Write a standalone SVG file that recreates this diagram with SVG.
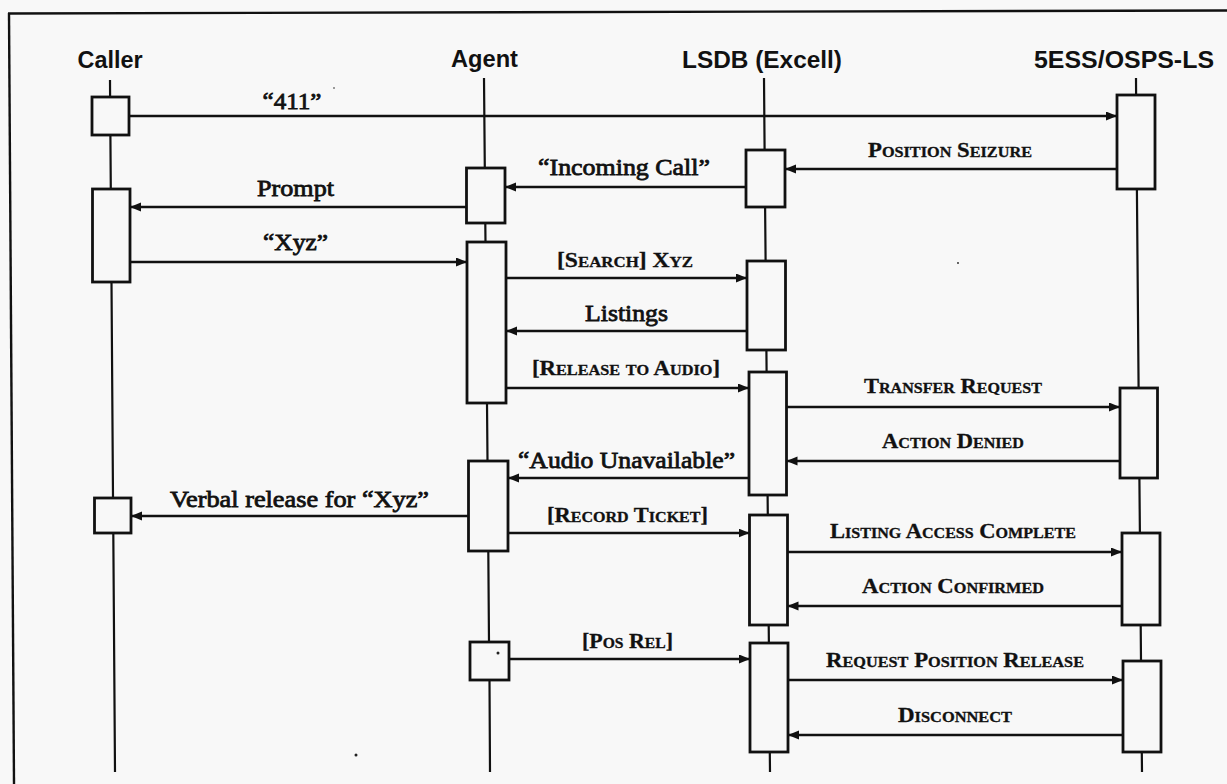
<svg xmlns="http://www.w3.org/2000/svg" width="1227" height="784" viewBox="0 0 1227 784">
<style>
.bg{fill:#f8f8f8}
.frame{stroke:#111;stroke-width:2.4;fill:none}
.ll{stroke:#111;stroke-width:2.2;fill:none}
.box{fill:#f8f8f8;stroke:#111;stroke-width:2.8}
.msg{stroke:#111;stroke-width:2.6;fill:none;marker-end:url(#ah)}
.hdr{font-family:"Liberation Sans",Arial,sans-serif;font-weight:bold;font-size:23px;fill:#111;text-anchor:middle}
.lbl{font-family:"Liberation Serif","Times New Roman",serif;font-size:24px;fill:#111;stroke:#111;stroke-width:0.8;text-anchor:middle}
.sc{font-family:"Liberation Serif","Times New Roman",serif;font-size:21px;font-variant:small-caps;font-weight:bold;fill:#111;stroke:#111;stroke-width:0.3;text-anchor:middle}
.speck{fill:#222}
</style>
<defs>
<marker id="ah" markerUnits="userSpaceOnUse" markerWidth="12" markerHeight="10" refX="11" refY="4.5" orient="auto">
<path d="M0,0 L11,4.5 L0,9 z" fill="#111"/>
</marker>
</defs>
<rect class="bg" x="0" y="0" width="1227" height="784"/>
<g id="frame">
<line class="frame" x1="8" y1="13.5" x2="1227" y2="10.5"/>
<line class="frame" x1="9" y1="13" x2="14" y2="784"/>
</g>
<g id="caller">
<text class="hdr" x="110" y="68" textLength="65" lengthAdjust="spacingAndGlyphs">Caller</text>
<path class="ll" d="M110 80 L110.1 97 M110.4 135 L110.8 189 M111.5 282 L113 498 M113.3 533 L115 772"/>
<rect class="box" x="92" y="97" width="37" height="38"/>
<rect class="box" x="92.5" y="189" width="37.5" height="93"/>
<rect class="box" x="94.5" y="498" width="36.5" height="35"/>
</g>
<g id="agent">
<text class="hdr" x="484.5" y="67" textLength="67" lengthAdjust="spacingAndGlyphs">Agent</text>
<path class="ll" d="M484 78 L484.8 168 M485.3 223 L485.5 242 M487 403 L487.5 461 M488.3 551 L489 642 M489.5 680 L490 772"/>
<rect class="box" x="466.5" y="168" width="38.5" height="55"/>
<rect class="box" x="467" y="242" width="39" height="161"/>
<rect class="box" x="468.5" y="461" width="39.5" height="90"/>
<rect class="box" x="470" y="642" width="39" height="38"/>
</g>
<g id="lsdb">
<text class="hdr" x="762" y="68" textLength="160" lengthAdjust="spacingAndGlyphs">LSDB (Excell)</text>
<path class="ll" d="M764 78 L764.6 150 M765.1 207 L765.6 261 M766.4 350 L766.6 372 M767.6 495 L767.8 515 M768.7 625 L768.9 643 M769.8 752 L770 772"/>
<rect class="box" x="746" y="150" width="39" height="57"/>
<rect class="box" x="747" y="261" width="38.5" height="89"/>
<rect class="box" x="749" y="372" width="37.5" height="123"/>
<rect class="box" x="749.5" y="515" width="38" height="110"/>
<rect class="box" x="750" y="643" width="38" height="109"/>
</g>
<g id="ess">
<text class="hdr" x="1124" y="68" textLength="180" lengthAdjust="spacingAndGlyphs">5ESS/OSPS-LS</text>
<path class="ll" d="M1136 78 L1136.1 95 M1136.9 189 L1138.6 388 M1139.4 478 L1139.9 533 M1140.7 625 L1141 661 M1141.8 752 L1142 772"/>
<rect class="box" x="1117" y="95" width="38" height="94"/>
<rect class="box" x="1120" y="388" width="37.5" height="90"/>
<rect class="box" x="1122" y="533" width="38" height="92"/>
<rect class="box" x="1123" y="661" width="38" height="91"/>
</g>
<g id="connectors">
<path class="msg" d="M129 116 H1117"/>
<text class="lbl" x="292" y="109" font-size="22" textLength="59" lengthAdjust="spacingAndGlyphs">“411”</text>
<path class="msg" d="M1117 169 H785"/>
<text class="sc" x="950" y="157" textLength="164" lengthAdjust="spacingAndGlyphs">Position Seizure</text>
<path class="msg" d="M746 187 H505"/>
<text class="lbl" x="624" y="175" textLength="172" lengthAdjust="spacingAndGlyphs">“Incoming Call”</text>
<path class="msg" d="M466.5 207 H130"/>
<text class="lbl" x="295.5" y="196" textLength="77" lengthAdjust="spacingAndGlyphs">Prompt</text>
<path class="msg" d="M130 262 H467"/>
<text class="lbl" x="295.5" y="250" textLength="65" lengthAdjust="spacingAndGlyphs">“Xyz”</text>
<path class="msg" d="M506 278 H747"/>
<text class="sc" x="625" y="267" textLength="136" lengthAdjust="spacingAndGlyphs">[Search] Xyz</text>
<path class="msg" d="M747 331 H506"/>
<text class="lbl" x="626.5" y="321" textLength="83" lengthAdjust="spacingAndGlyphs">Listings</text>
<path class="msg" d="M506 388 H749"/>
<text class="sc" x="626" y="375" textLength="188" lengthAdjust="spacingAndGlyphs">[Release to Audio]</text>
<path class="msg" d="M786.5 407 H1120"/>
<text class="sc" x="953" y="393" textLength="178" lengthAdjust="spacingAndGlyphs">Transfer Request</text>
<path class="msg" d="M1120 461 H786.5"/>
<text class="sc" x="953" y="448" textLength="142" lengthAdjust="spacingAndGlyphs">Action Denied</text>
<path class="msg" d="M749 478 H508"/>
<text class="lbl" x="626.5" y="468" textLength="217" lengthAdjust="spacingAndGlyphs">“Audio Unavailable”</text>
<path class="msg" d="M468.5 516 H131"/>
<text class="lbl" x="299.5" y="507" textLength="259" lengthAdjust="spacingAndGlyphs">Verbal release for “Xyz”</text>
<path class="msg" d="M508 533 H749.5"/>
<text class="sc" x="627.5" y="522" textLength="161" lengthAdjust="spacingAndGlyphs">[Record Ticket]</text>
<path class="msg" d="M787.5 552 H1122"/>
<text class="sc" x="953" y="538" textLength="246" lengthAdjust="spacingAndGlyphs">Listing Access Complete</text>
<path class="msg" d="M1122 606 H787.5"/>
<text class="sc" x="953" y="593" textLength="182" lengthAdjust="spacingAndGlyphs">Action Confirmed</text>
<path class="msg" d="M509 659 H750"/>
<text class="sc" x="627.5" y="648" textLength="91" lengthAdjust="spacingAndGlyphs">[Pos Rel]</text>
<path class="msg" d="M788 680 H1123"/>
<text class="sc" x="955" y="667" textLength="258" lengthAdjust="spacingAndGlyphs">Request Position Release</text>
<path class="msg" d="M1123 735 H788"/>
<text class="sc" x="955" y="722" textLength="114" lengthAdjust="spacingAndGlyphs">Disconnect</text>
</g>
<g id="specks">
<circle class="speck" cx="498" cy="653" r="1.5"/>
<circle class="speck" cx="356" cy="755" r="1.5"/>
<circle class="speck" cx="958" cy="263" r="0.9"/>
<circle class="speck" cx="334" cy="88" r="0.8"/>
</g>
</svg>
